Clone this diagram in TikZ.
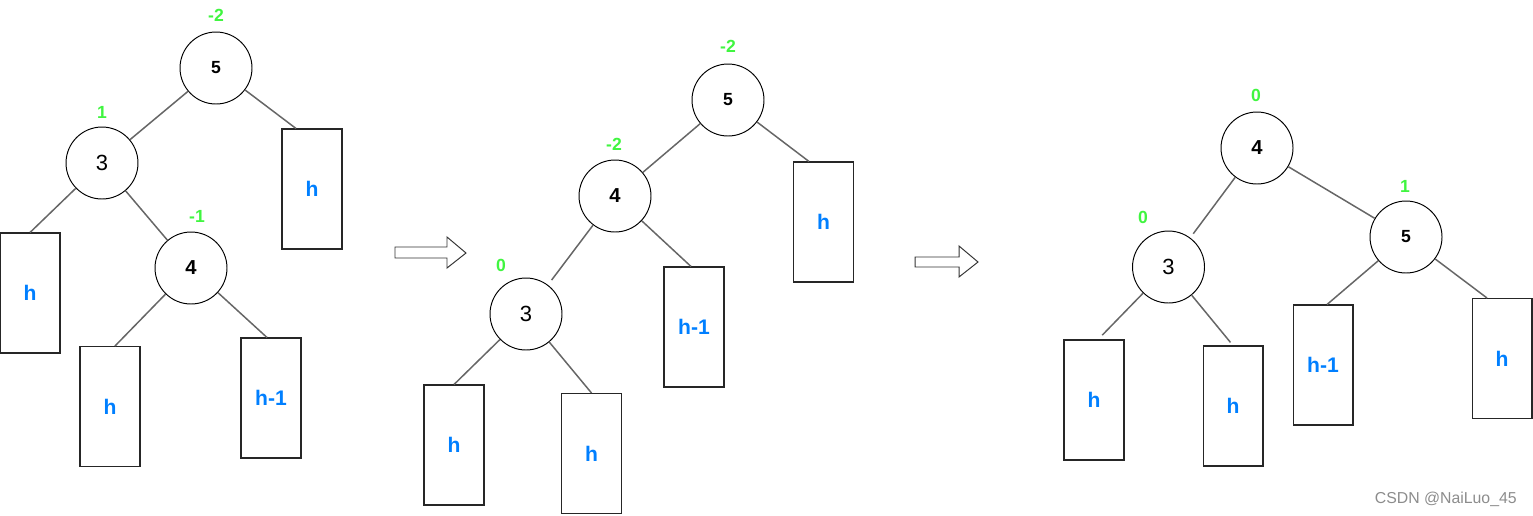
\documentclass[tikz,border=0pt]{standalone}
\usepackage{fontspec}
\setmainfont{Liberation Sans}
\usepackage{tikz}
\definecolor{balgreen}{RGB}{64,245,64}
\definecolor{hblue}{RGB}{0,127,255}
\definecolor{edgegray}{RGB}{102,102,102}

\begin{document}
\begin{tikzpicture}[
  x=0.02cm, y=-0.02cm,
  key/.style={circle, draw=black, line width=0.55pt, minimum size=1.44cm,
              inner sep=0pt, font=\fontsize{11.5}{13}\selectfont\bfseries},
  small/.style={font=\fontsize{10}{12}\selectfont\bfseries},
  plain/.style={font=\fontsize{12.5}{14}\selectfont},
  sub/.style={draw=black!85, line width=0.6pt, minimum width=1.2cm,
              minimum height=2.4cm, inner sep=0pt, text=hblue,
              font=\fontsize{12}{14}\selectfont\bfseries},
  bal/.style={text=balgreen, inner sep=0pt, font=\fontsize{10}{12}\selectfont\bfseries},
  edge/.style={draw=edgegray, line width=0.85pt},
  turn/.style={draw=black!80, line width=0.55pt, fill=white}
]
\useasboundingbox (0,0) rectangle (1533,515);

% before: 5 -> 3 -> 4
\node[key, small] (a5) at (216,68)  {5};
\node[key, plain] (a3) at (102,163) {3};
\node[key]        (a4) at (191,268) {4};
\node[sub] (aR)  at (312,189)   {h};
\node[sub] (aL)  at (30,293)    {h};
\node[sub] (aML) at (110,406.5) {h};
\node[sub] (aMR) at (271,398)   {h-1};
\node[bal] (a5b) at (216,15)  {-2};
\node[bal] (a3b) at (102,112) {1};
\node[bal] (a4b) at (197,216) {-1};

\draw[edge] (a5) -- (a3);
\draw[edge] (a5) -- ([xshift=-0.32cm]aR.north);
\draw[edge] (a3) -- (aL.north);
\draw[edge] (a3) -- (a4);
\draw[edge] (a4) -- ([xshift=0.1cm]aML.north);
\draw[edge] (a4) -- ([xshift=-0.08cm]aMR.north);

\draw[turn] (395,247) -- (447,247) -- (447,237) -- (466,253)
            -- (447,268) -- (447,258) -- (395,258) -- cycle;

% after the first rotation
\node[key, small] (b5) at (728,100) {5};
\node[key]        (b4) at (615,196) {4};
\node[key, plain] (b3) at (526,314) {3};
\node[sub] (bR)  at (823.5,222) {h};
\node[sub] (bH)  at (694,327)   {h-1};
\node[sub] (bL)  at (454,445)   {h};
\node[sub] (bM)  at (591.5,453.5) {h};
\node[bal] (b5b) at (728,46)  {-2};
\node[bal] (b4b) at (614,144) {-2};
\node[bal] (b3b) at (501,265) {0};

\draw[edge] (b5) -- (b4);
\draw[edge] (b5) -- ([xshift=-0.29cm]bR.north);
\draw[edge] (b4) -- ([xshift=-0.06cm]bH.north);
\draw[edge, shorten >=0.12cm] (b4) -- (b3);
\draw[edge] (b3) -- (bL.north);
\draw[edge] (b3) -- (bM.north);

\draw[turn] (915,257) -- (959,257) -- (959,246) -- (978,262)
            -- (959,277) -- (959,267) -- (915,267) -- cycle;

% after the second rotation
\node[key]        (c4) at (1257,148)   {4};
\node[key, small] (c5) at (1406,237)   {5};
\node[key, plain] (c3) at (1168.5,267) {3};
\node[sub] (cL) at (1094,400)   {h};
\node[sub] (cM) at (1233,406)   {h};
\node[sub] (cH) at (1323,365)   {h-1};
\node[sub] (cR) at (1502,358.5) {h};
\node[bal] (c4b) at (1256,95)  {0};
\node[bal] (c5b) at (1405,186) {1};
\node[bal] (c3b) at (1143,217) {0};

\draw[edge, shorten >=0.1cm] (c4) -- (c3);
\draw[edge] (c4) -- (c5);
\draw[edge] (c5) -- ([xshift=0.08cm]cH.north);
\draw[edge] (c5) -- ([xshift=-0.3cm]cR.north);
\draw[edge, shorten >=0.12cm] (c3) -- ([xshift=0.08cm]cL.north);
\draw[edge, shorten >=0.08cm] (c3) -- (cM.north);

\node[anchor=east, text=black!45, inner sep=0pt,
      font=\fontsize{9}{11}\selectfont] (mark) at (1517,499) {CSDN @NaiLuo\_45};
\end{tikzpicture}
\end{document}
